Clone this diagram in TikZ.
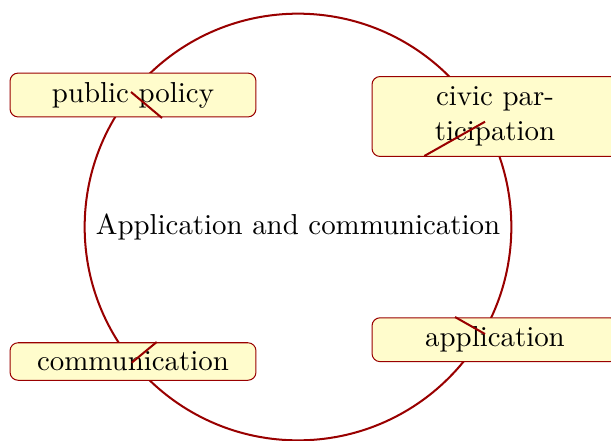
\documentclass[tikz,border=0pt]{standalone}
\begin{document}
\begin{tikzpicture}[x=0.3464pt,y=-0.3464pt,
  box/.style={draw=red!60!black,fill=yellow!20,rounded corners=2.8pt,line width=0.35pt,
    minimum width=85.2pt,inner sep=0pt,align=center,font=\normalsize},
  link/.style={draw=red!60!black,line width=0.7pt}]
\useasboundingbox (0,0) rectangle (611,440);
\node[draw=red!60!black,line width=0.7pt,circle,minimum size=147.8pt,inner sep=0pt] (c) at (298,227) {};
\node (ct) at (298,227) {Application and communication};
\node[box,minimum height=15.2pt] (pp) at (133,95) {public policy};
\node[box,minimum height=27.7pt] (cp) at (495,116.5) {civic par-\\ticipation};
\node[box,minimum height=13.0pt] (cm) at (133,361.5) {communication};
\node[box,minimum height=15.2pt] (ap) at (495,339.7) {application};
\coordinate (pp1) at (131,92);
\coordinate (pp2) at (162,118);
\coordinate (cp1) at (485,121.7);
\coordinate (cp2) at (424.3,156);
\coordinate (cm1) at (131.7,362.7);
\coordinate (cm2) at (156.7,342);
\coordinate (ap1) at (455,317);
\coordinate (ap2) at (485,334);
\draw[link] (pp1) -- (pp2);
\draw[link] (cp1) -- (cp2);
\draw[link] (cm1) -- (cm2);
\draw[link] (ap1) -- (ap2);
\end{tikzpicture}
\end{document}
